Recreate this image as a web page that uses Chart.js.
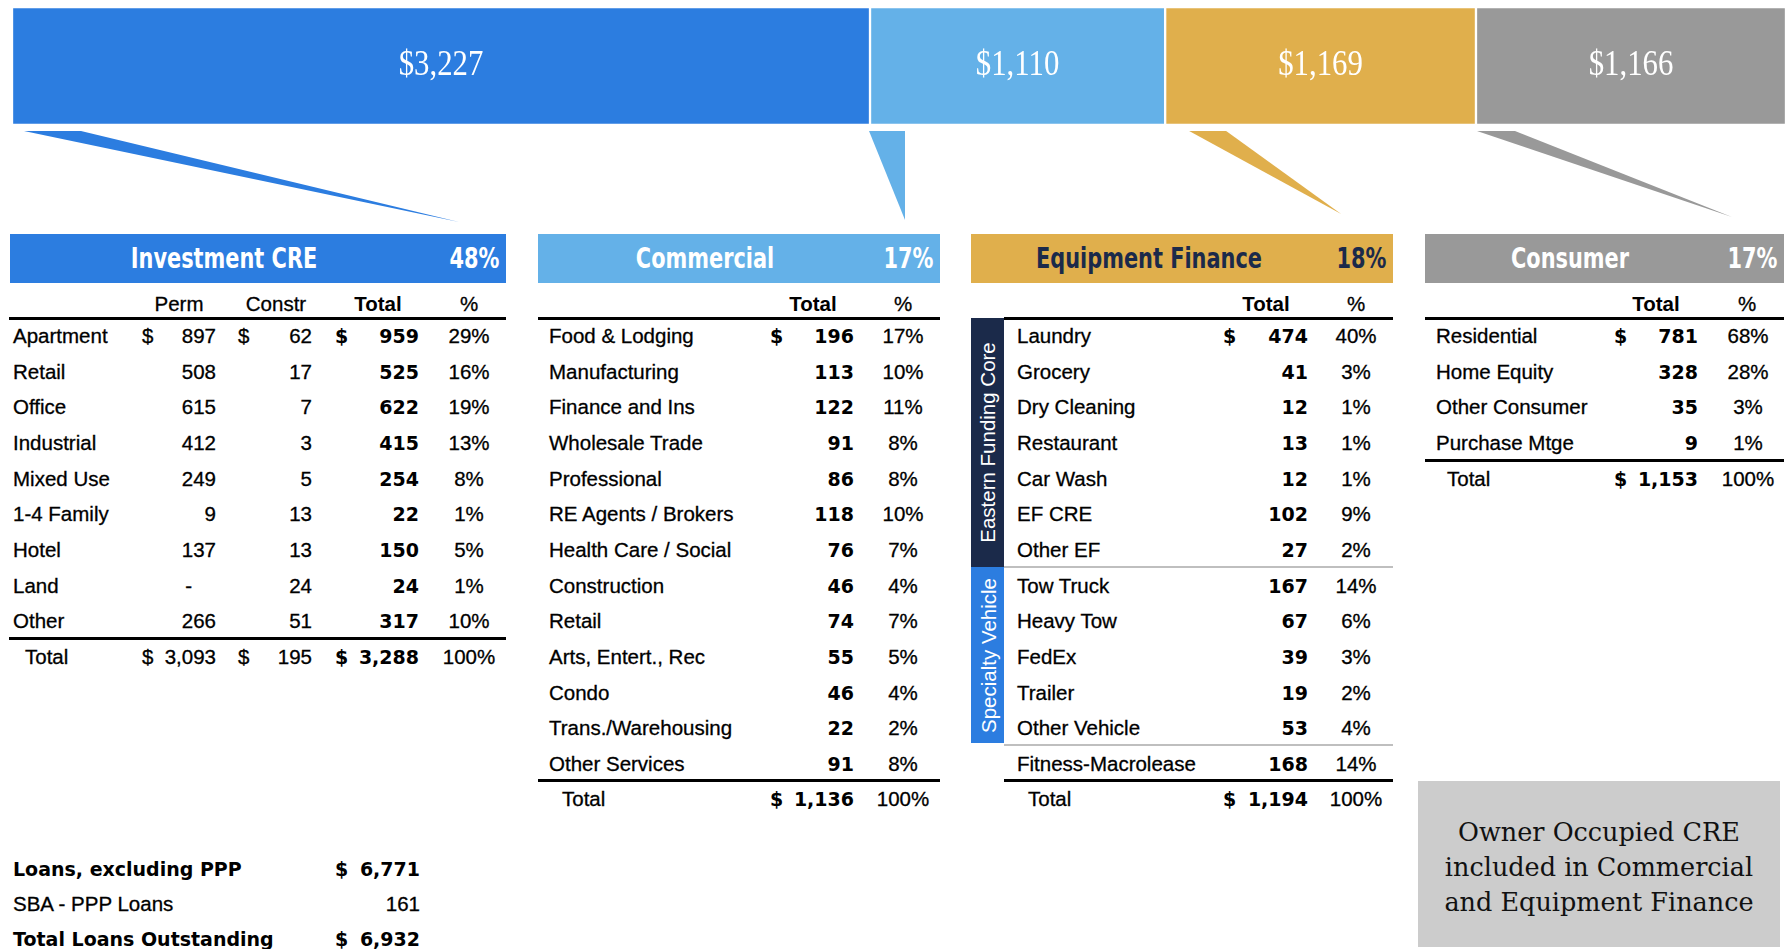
<!DOCTYPE html>
<html><head><meta charset="utf-8">
<script src="https://cdn.jsdelivr.net/npm/chart.js@4.4.1/dist/chart.umd.min.js"></script>
<style>
html,body{margin:0;padding:0;background:#fff;}
#page{position:relative;width:1787px;height:949px;overflow:hidden;font-family:"Liberation Sans",Arial,sans-serif;color:#000;}
#bar{position:absolute;left:0;top:0;}
.t{position:absolute;white-space:nowrap;height:26px;line-height:26px;}
.lab{font-size:20.5px;-webkit-text-stroke:0.3px #000;}
.bn{font-family:"DejaVu Sans",Verdana,sans-serif;font-weight:bold;font-size:19px;}
.hd{font-weight:bold;font-size:20.5px;}
.title{font-family:"DejaVu Sans Condensed","DejaVu Sans",sans-serif;font-weight:bold;font-size:29px;height:34px;line-height:34px;color:#fff;}
.sumb{font-family:"DejaVu Sans",Verdana,sans-serif;font-weight:bold;font-size:19px;}
.rect{position:absolute;}
.vert{position:absolute;color:#fff;font-size:20.5px;text-align:center;white-space:nowrap;transform:rotate(-90deg);}
.note{position:absolute;font-family:"DejaVu Serif","Liberation Serif",serif;font-size:25.5px;line-height:35px;text-align:center;color:#111;}
</style>
</head>
<body>
<div id="page">
<canvas id="bar" width="1787" height="232"></canvas>
</div>
<script>
// ---------- data ----------
const segments = ['Investment CRE', 'Commercial', 'Equipment Finance', 'Consumer'];
const segmentValues = [3227, 1110, 1169, 1166];
const segmentShares = [48, 17, 18, 17];
const segmentColors = ['#2C7DE0', '#64B1E8', '#E0AF4C', '#999999'];

const creCategories = ['Apartment', 'Retail', 'Office', 'Industrial', 'Mixed Use', '1-4 Family', 'Hotel', 'Land', 'Other'];
const crePerm = [897, 508, 615, 412, 249, 9, 137, null, 266];
const creConstr = [62, 17, 7, 3, 5, 13, 13, 24, 51];
const creTotal = [959, 525, 622, 415, 254, 22, 150, 24, 317];
const crePct = [29, 16, 19, 13, 8, 1, 5, 1, 10];
const creSums = [3093, 195, 3288, 100];

const comCategories = ['Food & Lodging', 'Manufacturing', 'Finance and Ins', 'Wholesale Trade', 'Professional', 'RE Agents / Brokers', 'Health Care / Social', 'Construction', 'Retail', 'Arts, Entert., Rec', 'Condo', 'Trans./Warehousing', 'Other Services'];
const comTotal = [196, 113, 122, 91, 86, 118, 76, 46, 74, 55, 46, 22, 91];
const comPct = [17, 10, 11, 8, 8, 10, 7, 4, 7, 5, 4, 2, 8];
const comSums = [1136, 100];

const efCategories = ['Laundry', 'Grocery', 'Dry Cleaning', 'Restaurant', 'Car Wash', 'EF CRE', 'Other EF', 'Tow Truck', 'Heavy Tow', 'FedEx', 'Trailer', 'Other Vehicle', 'Fitness-Macrolease'];
const efTotal = [474, 41, 12, 13, 12, 102, 27, 167, 67, 39, 19, 53, 168];
const efPct = [40, 3, 1, 1, 1, 9, 2, 14, 6, 3, 2, 4, 14];
const efSums = [1194, 100];
const efGroups = ['Eastern Funding Core', 'Specialty Vehicle'];

const conCategories = ['Residential', 'Home Equity', 'Other Consumer', 'Purchase Mtge'];
const conTotal = [781, 328, 35, 9];
const conPct = [68, 28, 3, 1];
const conSums = [1153, 100];

const summaryLabels = ['Loans, excluding PPP', 'SBA - PPP Loans', 'Total Loans Outstanding'];
const summaryValues = [6771, 161, 6932];

const noteText = ['Owner Occupied CRE', 'included in Commercial', 'and Equipment Finance'];

// ---------- helpers ----------
const W = 1787;
const page = document.getElementById('page');
const fmt = v => v.toLocaleString('en-US');
function txt(s, x, y, align, cls, color) {
  const d = document.createElement('div');
  d.className = 't ' + (cls || '');
  d.textContent = s;
  const isTitle = cls && cls.indexOf('title') >= 0;
  if (align === 'left') d.style.left = x + 'px';
  else if (align === 'right') d.style.right = (W - x) + 'px';
  else { d.style.left = (x - 200) + 'px'; d.style.width = '400px'; d.style.textAlign = 'center'; }
  if (isTitle) {
    d.style.transform = 'scaleX(0.8)';
    d.style.transformOrigin = align === 'right' ? '100% 50%' : (align === 'left' ? '0 50%' : '50% 50%');
  }
  const h = isTitle ? 34 : 26;
  d.style.top = (y - h / 2) + 'px';
  if (color) d.style.color = color;
  page.appendChild(d);
  return d;
}
function rect(x1, y1, x2, y2, color) {
  const d = document.createElement('div');
  d.className = 'rect';
  d.style.left = x1 + 'px'; d.style.top = y1 + 'px';
  d.style.width = (x2 - x1) + 'px'; d.style.height = (y2 - y1) + 'px';
  d.style.background = color;
  page.appendChild(d);
  return d;
}
const rowY = i => 336 + i * 35.65;
const HEAD_Y = 304;

function header(i, x1, x2, titleX, textColor) {
  rect(x1, 234, x2, 283, segmentColors[i]);
  txt(segments[i], titleX, 258, 'center', 'title', textColor);
  txt(segmentShares[i] + '%', x2 - 7, 258, 'right', 'title', textColor);
}

// ---------- Investment CRE ----------
header(0, 10, 506, 224, '#fff');
txt('Perm', 179, HEAD_Y, 'center', 'lab');
txt('Constr', 276, HEAD_Y, 'center', 'lab');
txt('Total', 378, HEAD_Y, 'center', 'hd');
txt('%', 469, HEAD_Y, 'center', 'lab');
rect(9, 317, 506, 320, '#000');
creCategories.forEach((c, i) => {
  const y = rowY(i);
  txt(c, 13, y, 'left', 'lab');
  if (i === 0) { txt('$', 142, y, 'left', 'lab'); txt('$', 238, y, 'left', 'lab'); txt('$', 335, y, 'left', 'bn'); }
  txt(crePerm[i] === null ? '-' : fmt(crePerm[i]), crePerm[i] === null ? 192 : 216, y, 'right', 'lab');
  txt(fmt(creConstr[i]), 312, y, 'right', 'lab');
  txt(fmt(creTotal[i]), 419, y, 'right', 'bn');
  txt(crePct[i] + '%', 469, y, 'center', 'lab');
});
rect(9, 637, 506, 640, '#000');
{
  const y = rowY(9);
  txt('Total', 25, y, 'left', 'lab');
  txt('$', 142, y, 'left', 'lab'); txt(fmt(creSums[0]), 216, y, 'right', 'lab');
  txt('$', 238, y, 'left', 'lab'); txt(fmt(creSums[1]), 312, y, 'right', 'lab');
  txt('$', 335, y, 'left', 'bn'); txt(fmt(creSums[2]), 419, y, 'right', 'bn');
  txt(creSums[3] + '%', 469, y, 'center', 'lab');
}

// ---------- Commercial ----------
header(1, 538, 940, 705, '#fff');
txt('Total', 813, HEAD_Y, 'center', 'hd');
txt('%', 903, HEAD_Y, 'center', 'lab');
rect(538, 317, 940, 320, '#000');
comCategories.forEach((c, i) => {
  const y = rowY(i);
  txt(c, 549, y, 'left', 'lab');
  if (i === 0) txt('$', 770, y, 'left', 'bn');
  txt(fmt(comTotal[i]), 854, y, 'right', 'bn');
  txt(comPct[i] + '%', 903, y, 'center', 'lab');
});
rect(538, 779, 940, 782, '#000');
{
  const y = rowY(13);
  txt('Total', 562, y, 'left', 'lab');
  txt('$', 770, y, 'left', 'bn'); txt(fmt(comSums[0]), 854, y, 'right', 'bn');
  txt(comSums[1] + '%', 903, y, 'center', 'lab');
}

// ---------- Equipment Finance ----------
header(2, 971, 1393, 1149, '#1B2A4A');
txt('Total', 1266, HEAD_Y, 'center', 'hd');
txt('%', 1356, HEAD_Y, 'center', 'lab');
rect(1004, 317, 1393, 320, '#000');
rect(971, 318, 1004, 567, '#1B2A4A');
rect(971, 567, 1004, 743, '#2C7DE0');
rect(1004, 566, 1393, 568, '#BFBFBF');
rect(1004, 744, 1393, 746, '#BFBFBF');
function vert(s, cx, cy, len) {
  const d = document.createElement('div');
  d.className = 'vert';
  d.textContent = s;
  d.style.width = len + 'px'; d.style.height = '33px'; d.style.lineHeight = '33px';
  d.style.left = (cx - len / 2) + 'px'; d.style.top = (cy - 16.5) + 'px';
  page.appendChild(d);
}
vert(efGroups[0], 987.5, 442.5, 249);
vert(efGroups[1], 987.5, 655, 176);
efCategories.forEach((c, i) => {
  const y = rowY(i);
  txt(c, 1017, y, 'left', 'lab');
  if (i === 0) txt('$', 1223, y, 'left', 'bn');
  txt(fmt(efTotal[i]), 1308, y, 'right', 'bn');
  txt(efPct[i] + '%', 1356, y, 'center', 'lab');
});
rect(1004, 779, 1393, 782, '#000');
{
  const y = rowY(13);
  txt('Total', 1028, y, 'left', 'lab');
  txt('$', 1223, y, 'left', 'bn'); txt(fmt(efSums[0]), 1308, y, 'right', 'bn');
  txt(efSums[1] + '%', 1356, y, 'center', 'lab');
}

// ---------- Consumer ----------
header(3, 1425, 1784, 1570, '#fff');
txt('Total', 1656, HEAD_Y, 'center', 'hd');
txt('%', 1747, HEAD_Y, 'center', 'lab');
rect(1425, 317, 1784, 320, '#000');
conCategories.forEach((c, i) => {
  const y = rowY(i);
  txt(c, 1436, y, 'left', 'lab');
  if (i === 0) txt('$', 1614, y, 'left', 'bn');
  txt(fmt(conTotal[i]), 1698, y, 'right', 'bn');
  txt(conPct[i] + '%', 1748, y, 'center', 'lab');
});
rect(1425, 459, 1784, 462, '#000');
{
  const y = rowY(4);
  txt('Total', 1447, y, 'left', 'lab');
  txt('$', 1614, y, 'left', 'bn'); txt(fmt(conSums[0]), 1698, y, 'right', 'bn');
  txt(conSums[1] + '%', 1748, y, 'center', 'lab');
}

// ---------- summary ----------
const sumY = [869, 904, 939];
summaryLabels.forEach((s, i) => {
  const bold = i !== 1;
  txt(s, 13, sumY[i], 'left', bold ? 'sumb' : 'lab');
  if (bold) txt('$', 335, sumY[i], 'left', 'sumb');
  txt(fmt(summaryValues[i]), 420, sumY[i], 'right', bold ? 'sumb' : 'lab');
});

// ---------- note box ----------
rect(1418, 781, 1780, 947, '#CCCCCC');
{
  const d = document.createElement('div');
  d.className = 'note';
  d.style.left = '1418px'; d.style.width = '362px'; d.style.top = '815px';
  d.innerHTML = noteText.map(s => s.replace(/&/g, '&amp;')).join('<br>');
  page.appendChild(d);
}

// ---------- Chart.js stacked bar ----------
const wedges = [
  { from: 12, to: 69, tip: 447, tipY: 222 },
  { from: -1, to: 35, tip: 35, tipY: 220 },
  { from: 24, to: 61, tip: 176, tipY: 214 },
  { from: 1, to: 39, tip: 256, tipY: 217 }
];
const barDeco = {
  id: 'barDeco',
  afterDatasetsDraw(chart) {
    const ctx = chart.ctx;
    chart.data.datasets.forEach((ds, i) => {
      const el = chart.getDatasetMeta(i).data[0];
      const left = Math.min(el.x, el.base), right = Math.max(el.x, el.base);
      const bottom = el.y + el.height / 2;
      // label
      ctx.save();
      ctx.fillStyle = '#ffffff';
      ctx.font = '35px "Liberation Serif", "DejaVu Serif", serif';
      ctx.textAlign = 'center';
      ctx.textBaseline = 'middle';
      ctx.translate((left + right) / 2, el.y);
      ctx.scale(0.88, 1);
      ctx.fillText('$' + fmt(ds.data[0]), 0, 0);
      ctx.restore();
      // pointer wedge
      const w = wedges[i];
      ctx.save();
      ctx.fillStyle = ds.backgroundColor;
      ctx.beginPath();
      ctx.moveTo(left + w.from, bottom + 6);
      ctx.lineTo(left + w.to, bottom + 6);
      ctx.lineTo(left + w.tip, w.tipY);
      ctx.closePath();
      ctx.fill();
      ctx.restore();
    });
  }
};
const total = segmentValues.reduce((a, b) => a + b, 0);
new Chart(document.getElementById('bar'), {
  type: 'bar',
  data: {
    labels: ['Loans'],
    datasets: segments.map((s, i) => ({
      label: s,
      data: [segmentValues[i]],
      backgroundColor: segmentColors[i],
      borderColor: 'rgba(255,255,255,0.55)',
      borderWidth: 1.5,
      borderSkipped: false,
      barPercentage: 1,
      categoryPercentage: 1
    }))
  },
  options: {
    indexAxis: 'y',
    responsive: false,
    animation: false,
    devicePixelRatio: 1,
    layout: { padding: { left: 12, right: 1, top: 7, bottom: 107 } },
    scales: {
      x: { stacked: true, display: false, min: 0, max: total },
      y: { stacked: true, display: false }
    },
    plugins: { legend: { display: false }, tooltip: { enabled: false } }
  },
  plugins: [barDeco]
});
</script>
</body></html>
